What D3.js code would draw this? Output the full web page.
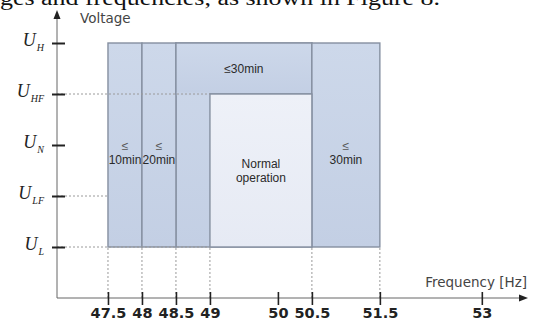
<!DOCTYPE html>
<html><head><meta charset="utf-8">
<script src="https://cdn.jsdelivr.net/npm/d3@7"></script>
<style>html,body{margin:0;padding:0;background:#fff;}svg{display:block;}</style>
</head><body>
<svg id="c" width="533" height="321"></svg>
<script>
// ---- data ----
const freqTicks = [47.5, 48, 48.5, 49, 50, 50.5, 51.5, 53];
const voltageLevels = ["L", "LF", "N", "HF", "H"];
const regionLabels = ["≤\n10min", "≤\n20min", "≤30min", "≤\n30min", "Normal\noperation"];
const regionFreqFrom = [47.5, 48, 48.5, 50.5, 49];
const regionFreqTo = [48, 48.5, 50.5, 51.5, 50.5];
const regionVoltFrom = ["L", "L", "HF", "L", "L"];
const regionVoltTo = ["H", "H", "H", "H", "HF"];
const regionKind = ["limited", "limited", "limited", "limited", "normal"];
const dashedVoltLevels = ["HF", "LF", "L"];
const dashedVoltTo = [49, 47.5, 49];
const dashedFreqs = [47.5, 48, 48.5, 49, 50.5, 51.5];
const xTitle = "Frequency [Hz]";
const yTitle = "Voltage";
const headerText = "ges and frequencies, as shown in Figure 8.";

// ---- drawing ----
const svg = d3.select("#c");
const x = d3.scaleLinear().domain([46.75, 53.65]).range([57, 526]);
const y = d3.scalePoint().domain(voltageLevels).range([247, 43]);
const xAxisY = 298, yAxisX = 57;

// header text (cropped at top)
svg.append("text").attr("x", 0).attr("y", 5)
  .attr("font-family", "Liberation Serif, Times New Roman, serif").attr("font-size", 20)
  .attr("textLength", 440).attr("lengthAdjust", "spacingAndGlyphs")
  .attr("fill", "#111").text(headerText);

const defs = svg.append("defs");
const g1 = defs.append("linearGradient").attr("id", "gl").attr("x1", 0).attr("y1", 0).attr("x2", 0).attr("y2", 1);
g1.append("stop").attr("offset", 0).attr("stop-color", "#cdd8ea");
g1.append("stop").attr("offset", 1).attr("stop-color", "#c3cfe4");
const g2 = defs.append("linearGradient").attr("id", "gn").attr("x1", 0).attr("y1", 0).attr("x2", 0).attr("y2", 1);
g2.append("stop").attr("offset", 0).attr("stop-color", "#eef1f8");
g2.append("stop").attr("offset", 1).attr("stop-color", "#e6eaf4");

const regions = regionLabels.map((l, i) => ({
  label: l, f0: regionFreqFrom[i], f1: regionFreqTo[i],
  v0: regionVoltFrom[i], v1: regionVoltTo[i], kind: regionKind[i]
}));

// background limited area for the 48.5–50.5 column (full height)
svg.append("rect").attr("x", x(48.5)).attr("y", y("H"))
  .attr("width", x(50.5) - x(48.5)).attr("height", y("L") - y("H"))
  .attr("fill", "url(#gl)").attr("stroke", "#858fa0").attr("stroke-width", 1.4);

svg.append("g").selectAll("rect").data(regions).join("rect")
  .attr("x", d => x(d.f0)).attr("y", d => y(d.v1))
  .attr("width", d => x(d.f1) - x(d.f0)).attr("height", d => y(d.v0) - y(d.v1))
  .attr("fill", d => d.kind === "normal" ? "url(#gn)" : "url(#gl)")
  .attr("stroke", "#858fa0").attr("stroke-width", 1.4);

// hide the band's bottom edge between 48.5 and 49 (only a dashed line there)
svg.append("rect").attr("x", x(48.5) + 0.8).attr("y", y("HF") - 1.5)
  .attr("width", x(49) - x(48.5) - 1.6).attr("height", 3)
  .attr("fill", "#c8d3e7");

// dashed guide lines
const dg = svg.append("g").attr("stroke", "#9a9a9a").attr("stroke-width", 1).attr("stroke-dasharray", "2,2").attr("fill", "none");
dashedVoltLevels.forEach((v, i) => {
  dg.append("line").attr("x1", yAxisX).attr("x2", x(dashedVoltTo[i])).attr("y1", y(v)).attr("y2", y(v));
});
dashedFreqs.forEach(f => {
  dg.append("line").attr("x1", x(f)).attr("x2", x(f)).attr("y1", y("L") + 1).attr("y2", xAxisY);
});

// region labels
const lab = svg.append("g").attr("font-family", "Liberation Sans, Arial, sans-serif").attr("font-size", 12)
  .attr("fill", "#2a2a2a").attr("text-anchor", "middle");
regions.forEach(d => {
  const lines = d.label.split("\n");
  const cx = (x(d.f0) + x(d.f1)) / 2;
  const top = y(d.v1), bot = y(d.v0);
  let cy = (top + bot) / 2;
  if (d.v0 === "L" && d.v1 === "H") cy += 8;
  const lh = 14;
  const t = lab.append("text");
  lines.forEach((ln, k) => {
    t.append("tspan").attr("x", cx)
      .attr("y", cy + (k - (lines.length - 1) / 2) * lh + 4)
      .attr("fill", ln === "≤" ? "#555" : null)
      .text(ln);
  });
});

// x axis line + arrow
svg.append("line").attr("x1", yAxisX).attr("x2", 522).attr("y1", xAxisY).attr("y2", xAxisY)
  .attr("stroke", "#666").attr("stroke-width", 1);
svg.append("path").attr("d", `M528,${xAxisY} L519,${xAxisY - 3.5} L519,${xAxisY + 3.5} Z`).attr("fill", "#222");
// y axis line + arrow
svg.append("line").attr("x1", yAxisX).attr("x2", yAxisX).attr("y1", 18).attr("y2", xAxisY)
  .attr("stroke", "#666").attr("stroke-width", 1);
svg.append("path").attr("d", `M${yAxisX},10 L${yAxisX - 3.5},19 L${yAxisX + 3.5},19 Z`).attr("fill", "#222");

// x ticks via d3 axis
const xa = svg.append("g").attr("transform", `translate(0,${xAxisY - 6})`)
  .call(d3.axisBottom(x).tickValues(freqTicks).tickSizeInner(13).tickSizeOuter(0).tickPadding(3)
    .tickFormat(d => String(d)));
xa.select(".domain").remove();
xa.selectAll(".tick line").attr("stroke", "#222").attr("stroke-width", 1.6);
xa.selectAll(".tick text").attr("font-family", "DejaVu Sans, Verdana, sans-serif")
  .attr("font-weight", "bold").attr("font-size", 14.5).attr("fill", "#222");

// y ticks via d3 axis
const ya = svg.append("g").attr("transform", `translate(65,0)`)
  .call(d3.axisLeft(y).tickSizeInner(13).tickSizeOuter(0).tickFormat(""));
ya.select(".domain").remove();
ya.selectAll(".tick line").attr("stroke", "#222").attr("stroke-width", 2);
ya.selectAll(".tick").each(function(d) {
  const t = d3.select(this).append("text").attr("x", -21).attr("y", 2)
    .attr("text-anchor", "end").attr("font-family", "Liberation Serif, Times New Roman, serif")
    .attr("font-style", "italic").attr("fill", "#222");
  t.append("tspan").attr("font-size", 18).text("U");
  t.append("tspan").attr("font-size", 10).attr("dy", 5).attr("dx", 1).text(d);
});

// axis titles
svg.append("text").attr("x", 80).attr("y", 23).attr("font-family", "DejaVu Sans, Verdana, sans-serif")
  .attr("font-size", 13.5).attr("fill", "#444").text(yTitle);
svg.append("text").attr("x", 527).attr("y", 287).attr("text-anchor", "end")
  .attr("font-family", "DejaVu Sans, Verdana, sans-serif")
  .attr("font-size", 13.5).attr("fill", "#444").text(xTitle);
</script>
</body></html>
